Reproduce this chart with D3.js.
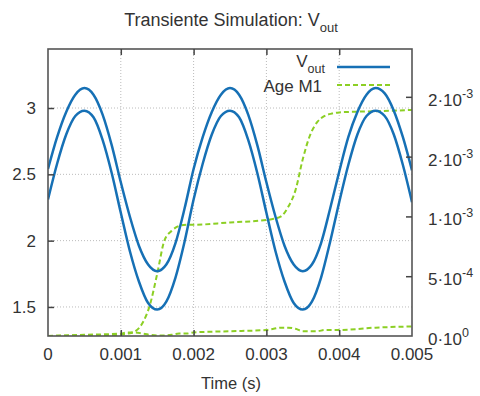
<!DOCTYPE html>
<html>
<head>
<meta charset="utf-8">
<script src="https://cdn.jsdelivr.net/npm/d3@7"></script>
<style>
  body { margin:0; background:#fff; }
  text { font-family: "Liberation Sans", Arial, sans-serif; fill:#333; }
</style>
</head>
<body>
<svg id="chart"></svg>
<script>
// time samples for V_out (s)
var vTime = [0, 0.000125, 0.00025, 0.000375, 0.0005, 0.000625, 0.00075, 0.000875,
  0.001, 0.001125, 0.00125, 0.001375, 0.0015, 0.001625, 0.00175, 0.001875,
  0.002, 0.002125, 0.00225, 0.002375, 0.0025, 0.002625, 0.00275, 0.002875,
  0.003, 0.003125, 0.00325, 0.003375, 0.0035, 0.003625, 0.00375, 0.003875,
  0.004, 0.004125, 0.00425, 0.004375, 0.0045, 0.004625, 0.00475, 0.004875, 0.005];

// upper and lower V_out traces (V)
var vOutHigh = [2.54, 2.78, 2.97, 3.10, 3.15, 3.10, 2.95, 2.72,
  2.44, 2.18, 1.96, 1.82, 1.77, 1.82, 1.98, 2.24,
  2.54, 2.78, 2.97, 3.10, 3.15, 3.10, 2.95, 2.72,
  2.44, 2.18, 1.96, 1.82, 1.77, 1.82, 1.98, 2.24,
  2.52, 2.78, 2.97, 3.10, 3.15, 3.11, 2.98, 2.78, 2.53];
var vOutLow = [2.31, 2.58, 2.80, 2.94, 2.98, 2.93, 2.76, 2.51,
  2.21, 1.92, 1.69, 1.53, 1.48, 1.54, 1.72, 1.99,
  2.31, 2.58, 2.80, 2.94, 2.98, 2.93, 2.76, 2.51,
  2.21, 1.92, 1.69, 1.53, 1.48, 1.54, 1.72, 1.99,
  2.29, 2.57, 2.80, 2.94, 2.98, 2.94, 2.80, 2.57, 2.29];

// time samples for the ageing traces (s)
var ageTime = [0, 0.0005, 0.001, 0.0011, 0.0012, 0.0013, 0.0014, 0.0015, 0.0016, 0.0017,
  0.0018, 0.0019, 0.002, 0.0025, 0.003, 0.0031, 0.0032, 0.0033, 0.0034, 0.0035,
  0.0036, 0.0037, 0.0038, 0.0039, 0.004, 0.0045, 0.005];
var ageHigh = [0, 0.000005, 0.00001, 0.00002, 0.00004, 0.00011, 0.00026, 0.00052, 0.00080, 0.00088,
  0.00092, 0.00093, 0.00093, 0.00095, 0.00097, 0.00098, 0.00100, 0.00108, 0.00122, 0.00148,
  0.00168, 0.00179, 0.00184, 0.00186, 0.00187, 0.00188, 0.00189];
var ageLow = [0, 0.00001, 0.00002, 0.00003, 0.00003, 0.00002, 0.00001, 0.000005, 0.000005, 0.00001,
  0.00002, 0.00002, 0.00003, 0.00004, 0.00005, 0.00006, 0.00007, 0.00007, 0.00006, 0.00004,
  0.00004, 0.00004, 0.00005, 0.00005, 0.00005, 0.00007, 0.00008];

// axis ticks
var xTicks = [0, 0.001, 0.002, 0.003, 0.004, 0.005];
var xTickLabels = ["0", "0.001", "0.002", "0.003", "0.004", "0.005"];
var yTicks = [1.5, 2, 2.5, 3];
var yTickLabels = ["1.5", "2", "2.5", "3"];
var y2Ticks = [0, 0.0005, 0.001, 0.0015, 0.002];
var y2Mant = ["0", "5", "1", "2", "2"];
var y2Exp = ["0", "-4", "-3", "-3", "-3"];

var blue = "#1670b5", green = "#8ccf24";

//set the dimensions and margins of graph
var margin = {top:49, right:68, bottom:60, left:48},
    w = 480 - margin.left - margin.right,
    h = 396 - margin.top - margin.bottom;

var svg = d3.select("#chart")
  .attr("width", 480)
  .attr("height", 396);

var g = svg.append("g")
  .attr("transform", `translate(${margin.left}, ${margin.top})`);

var x = d3.scaleLinear().domain([0, 0.005]).range([0, w]);
var y = d3.scaleLinear().domain([1.281, 3.445]).range([h, 0]);
var y2 = d3.scaleLinear().domain([0, 0.0024]).range([h, 0]);

// dotted grid
g.selectAll(".gx").data(xTicks.slice(1, -1)).join("line")
  .attr("x1", d => x(d)).attr("x2", d => x(d))
  .attr("y1", 0).attr("y2", h)
  .attr("stroke", "#bbb").attr("stroke-dasharray", "1,2");
g.selectAll(".gy").data(yTicks).join("line")
  .attr("x1", 0).attr("x2", w)
  .attr("y1", d => y(d)).attr("y2", d => y(d))
  .attr("stroke", "#bbb").attr("stroke-dasharray", "1,2");

// lines
var vLine = (vals) => d3.line()
  .x((d, i) => x(vTime[i]))
  .y(d => y(d))
  .curve(d3.curveMonotoneX)(vals);
var aLine = (vals) => d3.line()
  .x((d, i) => x(ageTime[i]))
  .y(d => y2(d))
  .curve(d3.curveMonotoneX)(vals);

svg.append("clipPath").attr("id", "clip")
  .append("rect").attr("width", w).attr("height", h);

var plot = g.append("g").attr("clip-path", "url(#clip)");

[ageLow, ageHigh].forEach(vals => {
  plot.append("path")
    .attr("d", aLine(vals))
    .attr("fill", "none")
    .attr("stroke", green)
    .attr("stroke-width", 2)
    .attr("stroke-dasharray", "5,3");
});
[vOutHigh, vOutLow].forEach(vals => {
  plot.append("path")
    .attr("d", vLine(vals))
    .attr("fill", "none")
    .attr("stroke", blue)
    .attr("stroke-width", 2.5);
});

// frame
g.append("rect")
  .attr("width", w).attr("height", h)
  .attr("fill", "none")
  .attr("stroke", "#555")
  .attr("stroke-width", 1.6);

// axes with inward ticks
var tickStyle = sel => {
  sel.select(".domain").remove();
  sel.selectAll(".tick line").attr("stroke", "#444").attr("stroke-width", 1.5);
  sel.selectAll(".tick text").remove();
};
g.append("g").attr("transform", `translate(0, ${h})`)
  .call(d3.axisTop(x).tickValues(xTicks.slice(1, -1)).tickSize(6)).call(tickStyle);
g.append("g")
  .call(d3.axisBottom(x).tickValues(xTicks.slice(1, -1)).tickSize(6)).call(tickStyle);
g.append("g")
  .call(d3.axisRight(y).tickValues(yTicks).tickSize(6)).call(tickStyle);
g.append("g").attr("transform", `translate(${w}, 0)`)
  .call(d3.axisLeft(y2).tickValues(y2Ticks.slice(1)).tickSize(6)).call(tickStyle);

// tick labels
g.selectAll(".xl").data(xTicks).join("text")
  .attr("x", d => x(d)).attr("y", h + 24)
  .attr("text-anchor", "middle")
  .style("font-size", "17px")
  .text((d, i) => xTickLabels[i]);
g.selectAll(".yl").data(yTicks).join("text")
  .attr("x", -12).attr("y", d => y(d) + 6)
  .attr("text-anchor", "end")
  .style("font-size", "17px")
  .text((d, i) => yTickLabels[i]);
var r = g.selectAll(".y2l").data(y2Ticks).join("text")
  .attr("x", w + 16).attr("y", d => y2(d) + 9)
  .style("font-size", "17px");
r.append("tspan").text((d, i) => y2Mant[i] + "\u00b710");
r.append("tspan").attr("dy", -8).style("font-size", "12.5px").text((d, i) => y2Exp[i]);

// axis label
svg.append("text")
  .attr("x", margin.left + w / 2 + 1).attr("y", 389)
  .attr("text-anchor", "middle")
  .style("font-size", "16.5px")
  .text("Time (s)");

// title
var title = svg.append("text")
  .attr("x", 231).attr("y", 26)
  .attr("text-anchor", "middle")
  .style("font-size", "18px");
title.append("tspan").text("Transiente Simulation: V");
title.append("tspan").attr("dy", 6).style("font-size", "13px").text("out");

// legend
var leg = svg.append("g");
var l1 = leg.append("text").attr("x", 325).attr("y", 67).attr("text-anchor", "end")
  .style("font-size", "17px");
l1.append("tspan").text("V");
l1.append("tspan").attr("dy", 6).style("font-size", "12.5px").text("out");
leg.append("line").attr("x1", 337).attr("x2", 390).attr("y1", 67).attr("y2", 67)
  .attr("stroke", blue).attr("stroke-width", 2.5);
leg.append("text").attr("x", 322).attr("y", 92).attr("text-anchor", "end")
  .style("font-size", "17px").text("Age M1");
leg.append("line").attr("x1", 337).attr("x2", 390).attr("y1", 85).attr("y2", 85)
  .attr("stroke", green).attr("stroke-width", 2).attr("stroke-dasharray", "5,3");
</script>
</body>
</html>
